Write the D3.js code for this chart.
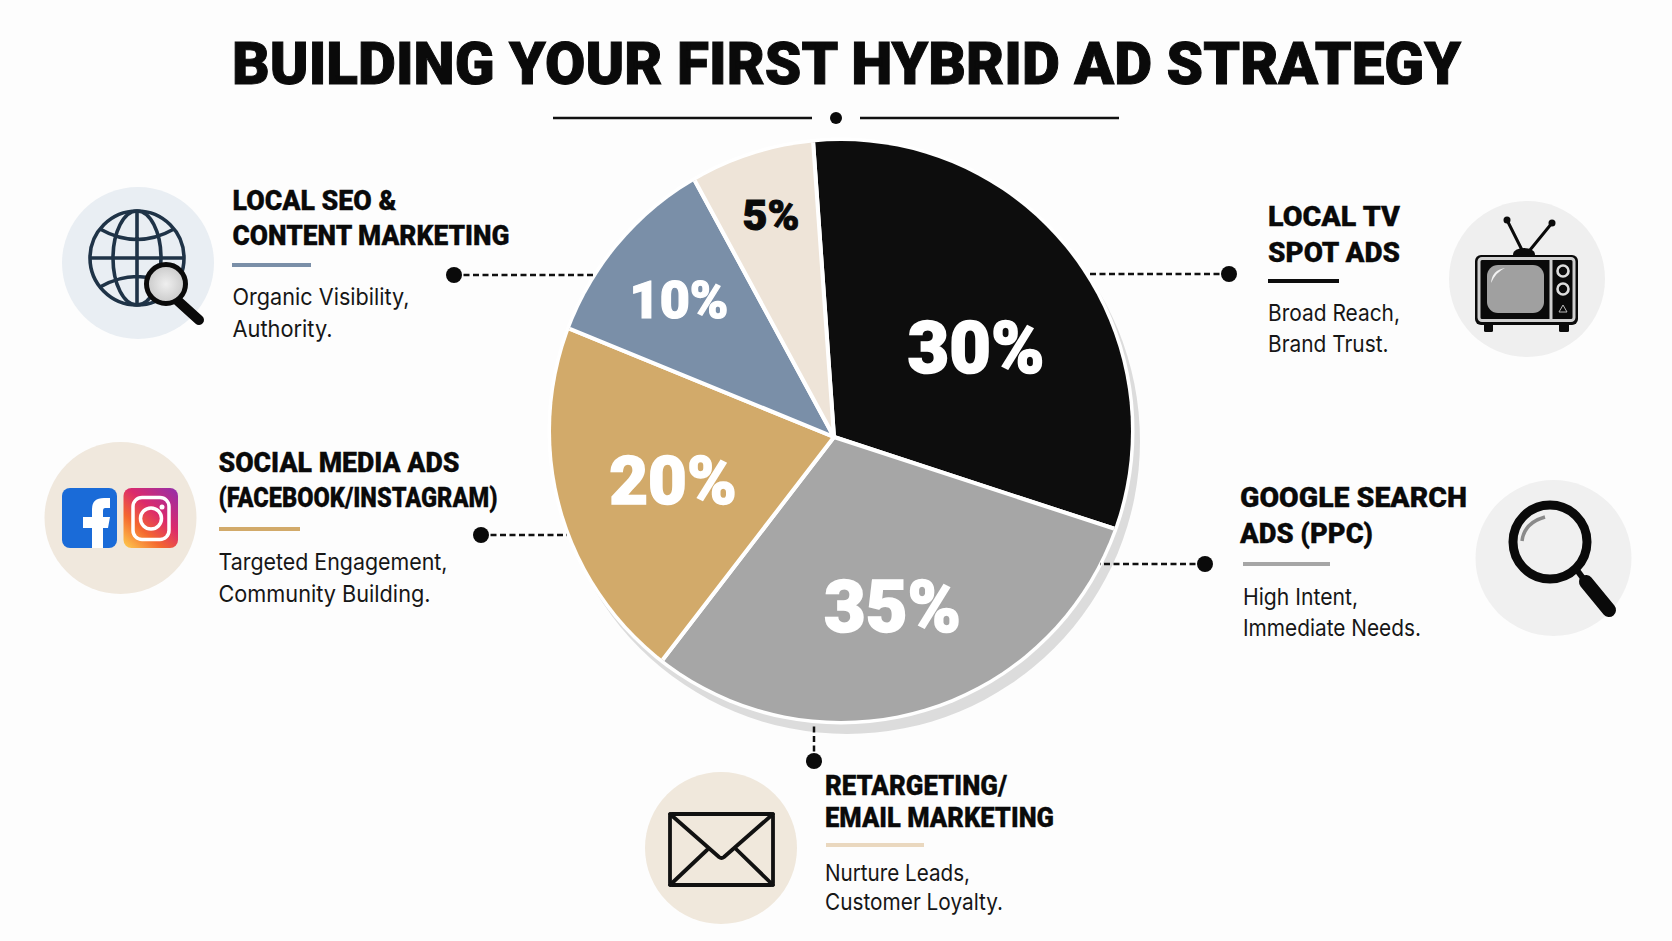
<!DOCTYPE html>
<html><head><meta charset="utf-8">
<script src="https://cdnjs.cloudflare.com/ajax/libs/d3/7.8.5/d3.min.js"></script>
<style>html,body{margin:0;padding:0;background:#fdfdfd}svg{display:block}</style></head>
<body><svg id="c" width="1672" height="941"></svg>
<script>
const chartTitle = "BUILDING YOUR FIRST HYBRID AD STRATEGY";
const categories = ["Local TV Spot Ads","Google Search Ads (PPC)","Social Media Ads","Local SEO & Content Marketing","Retargeting/Email Marketing"];
const shareLabels = ["30%","35%","20%","10%","5%"];
// The printed percentages are not proportional to the drawn wedges; these are the wedge sizes as measured in the picture.
const measuredSweeps = [31.16,30.4,20.75,10.9,6.79];
const sliceColors = ["#0d0d0d","#a6a6a6","#d2aa6a","#7a8fa8","#eee4d8"];

const svg = d3.select("#c");
const defs = svg.append("defs");
const HEAD = "Roboto, sans-serif", BODY = "Inter, Roboto, sans-serif";

// title
svg.append("text").attr("x",846.5).attr("y",84).attr("text-anchor","middle")
  .attr("font-family",HEAD).attr("font-weight",900).attr("font-size",60).attr("fill","#0a0a0a")
  .attr("stroke","#0a0a0a").attr("stroke-width",1)
  .attr("textLength",1229).attr("lengthAdjust","spacingAndGlyphs").text(chartTitle);
svg.append("g").selectAll("line").data([[553,812],[860,1119]]).join("line")
  .attr("x1",d=>d[0]).attr("x2",d=>d[1]).attr("y1",118).attr("y2",118).attr("stroke","#111").attr("stroke-width",2.5);
svg.append("circle").attr("cx",836).attr("cy",118).attr("r",6).attr("fill","#0a0a0a");

// pie: wedges radiate from an apex that sits off the rim circle's centre, as in the picture
const apex = {x:834,y:437}, rim = {x:841,y:431,r:290};
svg.append("circle").attr("cx",rim.x+6).attr("cy",rim.y+10).attr("r",rim.r+3).attr("fill","#dcdcdc");
svg.append("circle").attr("cx",rim.x).attr("cy",rim.y).attr("r",rim.r+3.5).attr("fill","#fff");
defs.append("clipPath").attr("id","rimClip").append("circle").attr("cx",rim.x).attr("cy",rim.y).attr("r",rim.r);
const pie = d3.pie().sort(null).startAngle(-4.05*Math.PI/180).endAngle((360-4.05)*Math.PI/180);
const arc = d3.arc().innerRadius(0).outerRadius(420);
svg.append("g").attr("clip-path","url(#rimClip)").append("g").attr("transform",`translate(${apex.x},${apex.y})`)
  .selectAll("path").data(pie(measuredSweeps)).join("path")
  .attr("d",arc).attr("fill",(d,i)=>sliceColors[i]).attr("stroke","#fff").attr("stroke-width",4).attr("stroke-linejoin","round");

const labelPlace = [[976,347,72,"#fff",1.6],[892.5,606,72,"#fff",1.6],[673,480,67,"#fff",1.5],[679,300,52,"#fff",1.2],[771,215,43,"#0a0a0a",1]];
svg.append("g").selectAll("text").data(shareLabels).join("text")
  .attr("x",(d,i)=>labelPlace[i][0]).attr("y",(d,i)=>labelPlace[i][1]).attr("dy","0.355em").attr("text-anchor","middle")
  .attr("font-family",HEAD).attr("font-weight",900).attr("font-size",(d,i)=>labelPlace[i][2])
  .attr("fill",(d,i)=>labelPlace[i][3]).attr("stroke",(d,i)=>labelPlace[i][3]).attr("stroke-width",(d,i)=>labelPlace[i][4]).text(d=>d);

// callouts
const callouts = [
 {t:["LOCAL SEO &","CONTENT MARKETING"],tw:[164,277],b:["Organic Visibility,","Authority."],bw:[177,100],x:232.5,ty:[210,245],ry:265,rx:[232,311],rc:"#7a8fa8",by:[305,337],dot:[454,275],end:[594,275],circ:[138,263,76,"#e9eef3"]},
 {t:["SOCIAL MEDIA ADS","(FACEBOOK/INSTAGRAM)"],tw:[241,279],b:["Targeted Engagement,","Community Building."],bw:[229,212],x:218.5,ty:[472,507],ry:529,rx:[219,300],rc:"#d2aa6a",by:[570,602],dot:[481,535],end:[567,535],circ:[120.5,518,76,"#f0e8dd"]},
 {t:["LOCAL TV","SPOT ADS"],tw:[132,132],b:["Broad Reach,","Brand Trust."],bw:[132,120.5],x:1268,ty:[226,262],ry:281,rx:[1268,1339],rc:"#0d0d0d",by:[321,352],dot:[1229,274],end:[1090,274],circ:[1527,279,78,"#efefef"]},
 {t:["GOOGLE SEARCH","ADS (PPC)"],tw:[227,133],b:["High Intent,","Immediate Needs."],bw:[115,178],x:1240,bx:1243,ty:[507,543],ry:564,rx:[1243,1330],rc:"#a6a6a6",by:[605,636],dot:[1205,564],end:[1100,564],circ:[1553.5,558,78,"#f0f0f0"]},
 {t:["RETARGETING/","EMAIL MARKETING"],tw:[182,229],b:["Nurture Leads,","Customer Loyalty."],bw:[145,178],x:825,ty:[795,827],ry:845,rx:[826,924],rc:"#ead8bf",by:[881,910],dot:[814,761],end:[814,723],circ:[721,848,76,"#f0e8dc"]}
];
callouts.forEach(c=>{
  const g = svg.append("g");
  g.append("circle").attr("cx",c.circ[0]).attr("cy",c.circ[1]).attr("r",c.circ[2]).attr("fill",c.circ[3]);
  g.append("line").attr("x1",c.dot[0]).attr("y1",c.dot[1]).attr("x2",c.end[0]).attr("y2",c.end[1])
    .attr("stroke","#111").attr("stroke-width",2.5).attr("stroke-dasharray","6 3.5");
  g.append("circle").attr("cx",c.dot[0]).attr("cy",c.dot[1]).attr("r",8).attr("fill","#0a0a0a");
  c.t.forEach((s,i)=>g.append("text").attr("x",c.x).attr("y",c.ty[i]).attr("font-family",HEAD).attr("font-weight",900).attr("font-size",28)
    .attr("stroke","#0a0a0a").attr("stroke-width",0.3).attr("fill","#0a0a0a")
    .attr("textLength",c.tw[i]).attr("lengthAdjust","spacingAndGlyphs").text(s));
  g.append("rect").attr("x",c.rx[0]).attr("y",c.ry-2).attr("width",c.rx[1]-c.rx[0]).attr("height",4).attr("fill",c.rc);
  c.b.forEach((s,i)=>g.append("text").attr("x",c.bx||c.x).attr("y",c.by[i]).attr("font-family",BODY).attr("font-weight",400).attr("font-size",23).attr("fill","#161616")
    .attr("textLength",c.bw[i]).attr("lengthAdjust","spacingAndGlyphs").text(s));
});

// icons
const ic = svg.append("g");
// globe + lens
const gl = ic.append("g").attr("fill","none").attr("stroke","#1f3347").attr("stroke-width",3.6);
gl.append("circle").attr("cx",137).attr("cy",258).attr("r",47);
gl.append("ellipse").attr("cx",137).attr("cy",258).attr("rx",24).attr("ry",47);
gl.append("path").attr("d","M137 211V305M90 258H184M100 229Q137 250 174 229M100 287Q137 266 174 287");
defs.append("radialGradient").attr("id","lens").selectAll("stop").data([["0%","#efefef"],["100%","#c9c9c9"]]).join("stop").attr("offset",d=>d[0]).attr("stop-color",d=>d[1]);
ic.append("line").attr("x1",178).attr("y1",301).attr("x2",199).attr("y2",320).attr("stroke","#0a0a0a").attr("stroke-width",10).attr("stroke-linecap","round");
ic.append("circle").attr("cx",166).attr("cy",284).attr("r",19.5).attr("fill","url(#lens)").attr("stroke","#0a0a0a").attr("stroke-width",5);
// facebook
ic.append("rect").attr("x",62).attr("y",488).attr("width",55).attr("height",60).attr("rx",8).attr("fill","#1a6bd8");
ic.append("path").attr("fill","#fff").attr("d","M92 548V528H83V517H92V509Q92 498 104 498H110V508H105Q103 508 103 511V517H110L108 528H103V548Z");
// instagram
const ig = defs.append("linearGradient").attr("id","ig").attr("x1","0.1").attr("y1","1").attr("x2","0.9").attr("y2","0");
[["0%","#fdc04a"],["30%","#f4682f"],["60%","#dc2a6b"],["100%","#9a2fa5"]].forEach(s=>ig.append("stop").attr("offset",s[0]).attr("stop-color",s[1]));
ic.append("rect").attr("x",123.5).attr("y",488).attr("width",54.5).attr("height",60).attr("rx",8).attr("fill","url(#ig)");
ic.append("rect").attr("x",133).attr("y",497.5).attr("width",36).attr("height",42).attr("rx",9).attr("fill","none").attr("stroke","#fff").attr("stroke-width",3.5);
ic.append("circle").attr("cx",151).attr("cy",518.5).attr("r",10.5).attr("fill","none").attr("stroke","#fff").attr("stroke-width",3.5);
ic.append("circle").attr("cx",162).attr("cy",507).attr("r",2.5).attr("fill","#fff");
// tv
const tv = ic.append("g");
tv.append("path").attr("d","M1507 220L1522 250M1552 223L1530 250").attr("stroke","#0a0a0a").attr("stroke-width",3).attr("fill","none");
tv.append("circle").attr("cx",1507).attr("cy",220).attr("r",3.5).attr("fill","#0a0a0a");
tv.append("circle").attr("cx",1552).attr("cy",223).attr("r",3.5).attr("fill","#0a0a0a");
tv.append("ellipse").attr("cx",1524).attr("cy",254).attr("rx",11).attr("ry",6).attr("fill","#0a0a0a");
tv.append("rect").attr("x",1484).attr("y",322).attr("width",9).attr("height",10).attr("rx",1.5).attr("fill","#0a0a0a");
tv.append("rect").attr("x",1559).attr("y",322).attr("width",10).attr("height",10).attr("rx",1.5).attr("fill","#0a0a0a");
tv.append("rect").attr("x",1475).attr("y",255).attr("width",103).attr("height",70).attr("rx",6).attr("fill","#0a0a0a");
tv.append("rect").attr("x",1479).attr("y",258.5).attr("width",95).attr("height",62).attr("rx",3).attr("fill","none").attr("stroke","#cfcfcf").attr("stroke-width",3);
tv.append("rect").attr("x",1487).attr("y",265).attr("width",57).attr("height",48).attr("rx",11).attr("fill","#a0a0a0");
tv.append("path").attr("d","M1491 283Q1492 270 1505 268Q1496 272 1491 283Z").attr("fill","#f2f2f2");
tv.append("line").attr("x1",1551).attr("x2",1551).attr("y1",259).attr("y2",320).attr("stroke","#cfcfcf").attr("stroke-width",3);
[271,289].forEach(y=>tv.append("circle").attr("cx",1563).attr("cy",y).attr("r",5.5).attr("fill","#0a0a0a").attr("stroke","#dcdcdc").attr("stroke-width",2.6));
tv.append("path").attr("d","M1559 312L1563 305L1567 312Z").attr("fill","none").attr("stroke","#bbb").attr("stroke-width",1);
// google lens
ic.append("line").attr("x1",1574).attr("y1",566).attr("x2",1585).attr("y2",581).attr("stroke","#0a0a0a").attr("stroke-width",6);
ic.append("line").attr("x1",1586).attr("y1",582).attr("x2",1609).attr("y2",610).attr("stroke","#0a0a0a").attr("stroke-width",14).attr("stroke-linecap","round");
ic.append("circle").attr("cx",1550).attr("cy",542).attr("r",37).attr("fill","none").attr("stroke","#0a0a0a").attr("stroke-width",9);
ic.append("path").attr("d","M1522 541Q1524 523 1545 517").attr("fill","none").attr("stroke","#8a8a8a").attr("stroke-width",3.5);
// envelope
const en = ic.append("g").attr("fill","none").attr("stroke","#111").attr("stroke-width",3.8).attr("stroke-linejoin","round").attr("stroke-linecap","round");
en.append("rect").attr("x",670).attr("y",814).attr("width",103).attr("height",71).attr("rx",2);
en.append("path").attr("d","M670 814L719 857Q721.5 859 724 857L773 814M670 885L707 850M773 885L736 849");
</script></body></html>
